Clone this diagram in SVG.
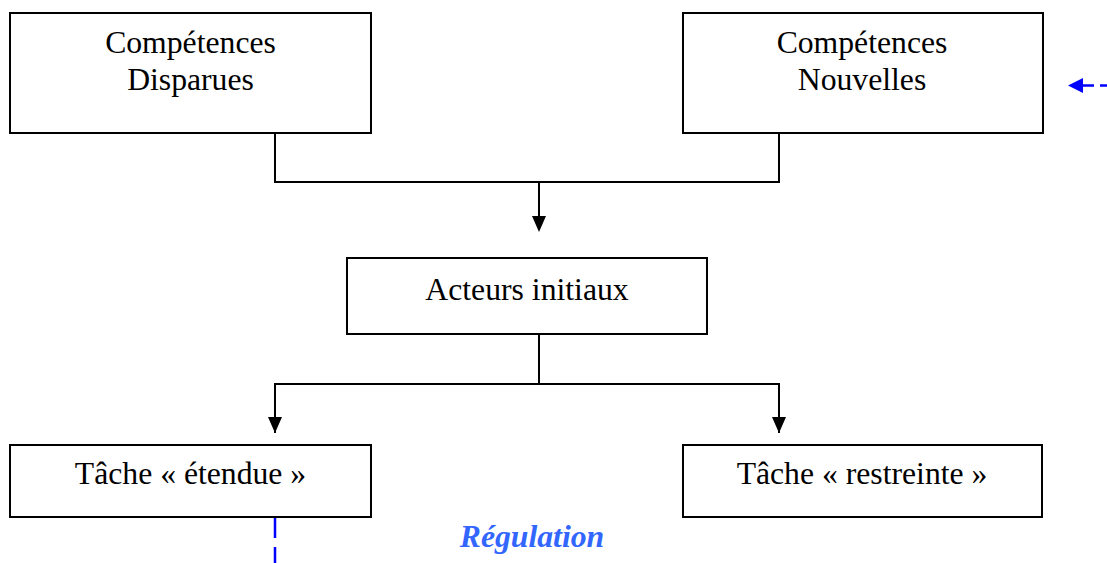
<svg xmlns="http://www.w3.org/2000/svg" width="1107" height="563" viewBox="0 0 1107 563">
<style>
.box{fill:#fff;stroke:#000;stroke-width:2}
.lbl{font-family:"Liberation Serif","Times New Roman",serif;font-size:31.7px;fill:#000;text-anchor:middle}
.con{fill:none;stroke:#000;stroke-width:2}
.head{fill:#000}
.blue{fill:none;stroke:#0000ff;stroke-width:2.5}
.bhead{fill:#0000ff}
.reg{font-family:"Liberation Serif","Times New Roman",serif;font-size:31.7px;font-weight:bold;font-style:italic;fill:#3366ff;text-anchor:middle}
</style>
<rect width="1107" height="563" fill="#fff"/>
<g id="connectors">
<path class="con" d="M275,133 V182 H779 V133"/>
<path class="con" d="M539,182 V217"/>
<polygon class="head" points="532,216 546,216 539,232"/>
<path class="con" d="M539,334 V384"/>
<path class="con" d="M275,433 V384 H779 V433"/>
<polygon class="head" points="268,417 282,417 275,433"/>
<polygon class="head" points="772,417 786,417 779,433"/>
<path class="blue" d="M1083,85.5 H1107" stroke-dasharray="11 6"/>
<polygon class="bhead" points="1068,85.5 1083,78 1083,93"/>
<path class="blue" d="M275,518 V563" stroke-dasharray="20 9"/>
</g>
<g id="node-disparues">
<rect class="box" x="10" y="13" width="361" height="120"/>
<text class="lbl" x="190.5" y="53">Compétences</text>
<text class="lbl" x="190.5" y="90">Disparues</text>
</g>
<g id="node-nouvelles">
<rect class="box" x="683" y="13" width="360" height="120"/>
<text class="lbl" x="862" y="53">Compétences</text>
<text class="lbl" x="862" y="90">Nouvelles</text>
</g>
<g id="node-acteurs">
<rect class="box" x="347" y="258" width="360" height="76"/>
<text class="lbl" x="527" y="300">Acteurs initiaux</text>
</g>
<g id="node-etendue">
<rect class="box" x="10" y="445" width="361" height="72"/>
<text class="lbl" x="190.5" y="484">Tâche « étendue »</text>
</g>
<g id="node-restreinte">
<rect class="box" x="683" y="445" width="359" height="72"/>
<text class="lbl" x="862" y="484">Tâche « restreinte »</text>
</g>
<g id="label-regulation">
<text class="reg" x="532" y="547">Régulation</text>
</g>
</svg>
